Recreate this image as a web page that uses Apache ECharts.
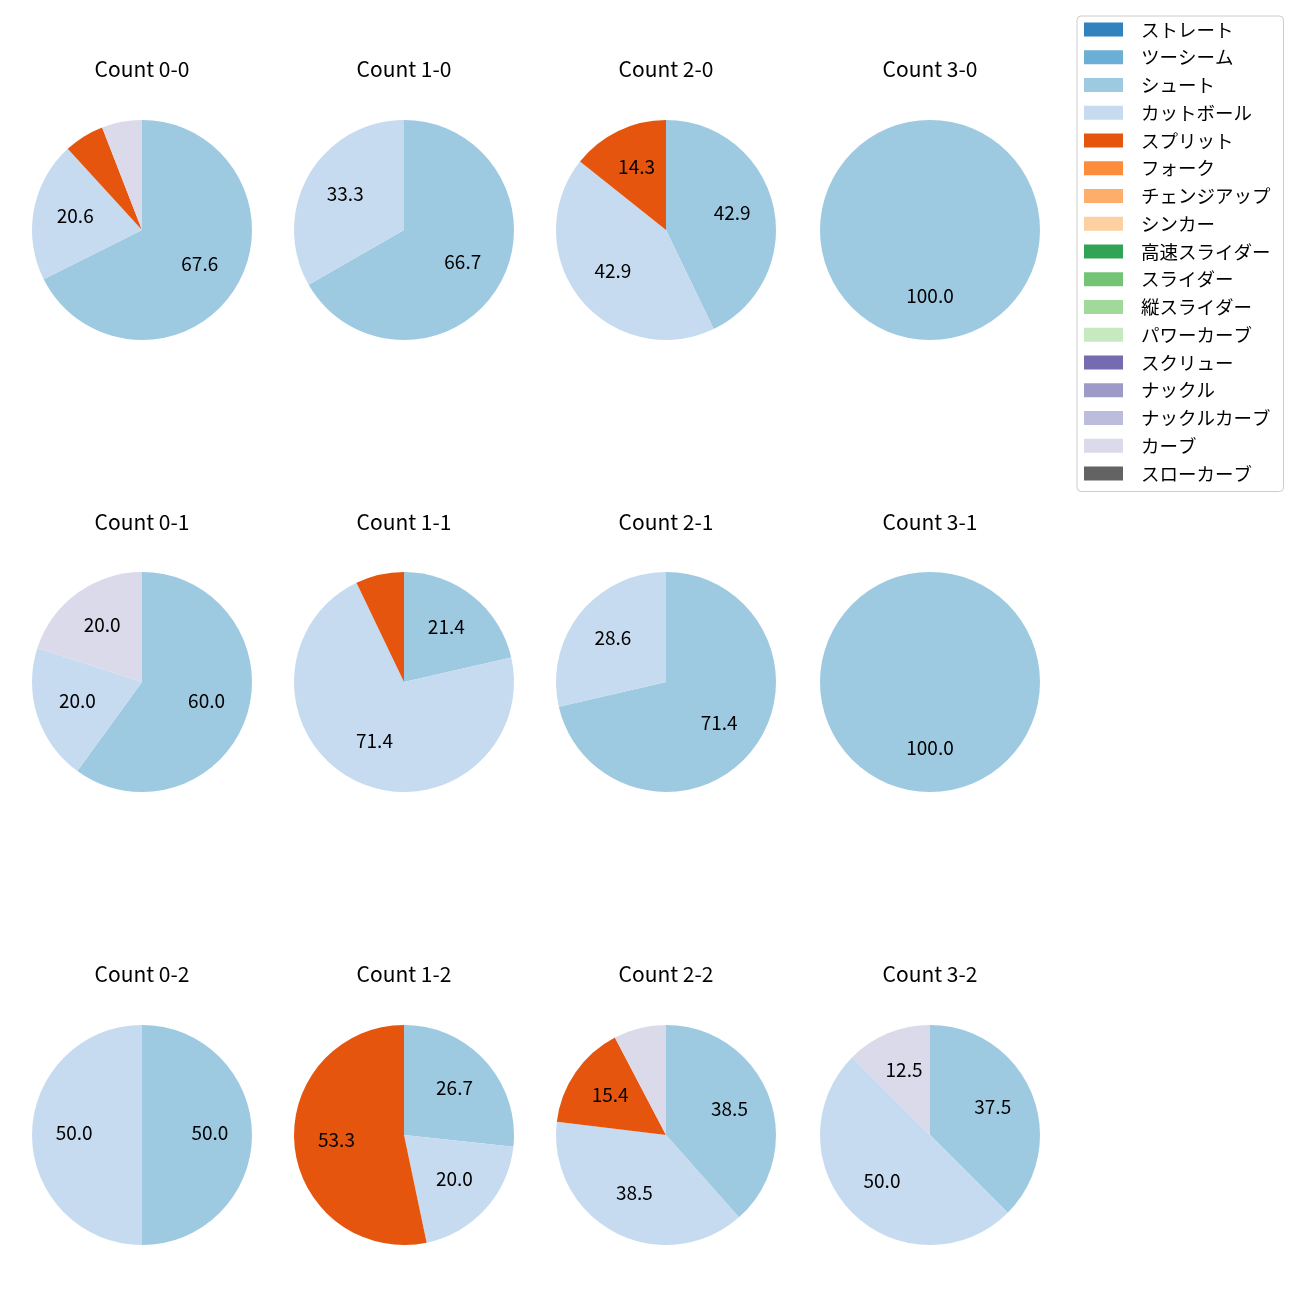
<!DOCTYPE html>
<html>
<head>
<meta charset="utf-8">
<script src="https://cdn.jsdelivr.net/npm/echarts@6/dist/echarts.min.js"></script>
<style>html,body{margin:0;padding:0;background:#fff;}#c{width:1300px;height:1300px;}</style>
</head>
<body>
<div id="c"></div>
<script>
const pitchTypes = ['ストレート','ツーシーム','シュート','カットボール','スプリット','フォーク','チェンジアップ','シンカー','高速スライダー','スライダー','縦スライダー','パワーカーブ','スクリュー','ナックル','ナックルカーブ','カーブ','スローカーブ'];
const pitchColors = ['#3182bd','#6baed6','#9ecae1','#c6dbef','#e6550d','#fd8d3c','#fdae6b','#fdd0a2','#31a354','#74c476','#a1d99b','#c7e9c0','#756bb1','#9e9ac8','#bcbddc','#dadaeb','#636363'];

// percentages per count, order: シュート, カットボール, スプリット, カーブ
const shownTypes = ['シュート','カットボール','スプリット','カーブ'];
const count_0_0 = [67.6, 20.6, 5.9, 5.9];
const count_1_0 = [66.7, 33.3, 0, 0];
const count_2_0 = [42.9, 42.9, 14.3, 0];
const count_3_0 = [100.0, 0, 0, 0];
const count_0_1 = [60.0, 20.0, 0, 20.0];
const count_1_1 = [21.4, 71.4, 7.1, 0];
const count_2_1 = [71.4, 28.6, 0, 0];
const count_3_1 = [100.0, 0, 0, 0];
const count_0_2 = [50.0, 50.0, 0, 0];
const count_1_2 = [26.7, 20.0, 53.3, 0];
const count_2_2 = [38.5, 38.5, 15.4, 7.7];
const count_3_2 = [37.5, 50.0, 0, 12.5];

const panels = [
  ['Count 0-0', count_0_0], ['Count 1-0', count_1_0], ['Count 2-0', count_2_0], ['Count 3-0', count_3_0],
  ['Count 0-1', count_0_1], ['Count 1-1', count_1_1], ['Count 2-1', count_2_1], ['Count 3-1', count_3_1],
  ['Count 0-2', count_0_2], ['Count 1-2', count_1_2], ['Count 2-2', count_2_2], ['Count 3-2', count_3_2]
];

const FONT = '"Noto Sans CJK JP", "Noto Sans", sans-serif';
const colX = [142, 404, 666, 930];
const rowY = [230, 682, 1135];
const titleY = [69, 522, 974];
const R = 110;
const colorOf = n => pitchColors[pitchTypes.indexOf(n)];

const titles = [];
const series = [];
panels.forEach((p, i) => {
  const cx = colX[i % 4], cy = rowY[Math.floor(i / 4)];
  titles.push({
    text: p[0], left: cx, top: titleY[Math.floor(i / 4)] - 13, textAlign: 'center', padding: 0,
    textStyle: {fontFamily: FONT, fontSize: 21, fontWeight: 'normal', color: '#000', lineHeight: 26}
  });
  const data = [];
  p[1].forEach((v, k) => { if (v > 0) data.push({name: shownTypes[k], value: v, itemStyle: {color: colorOf(shownTypes[k])}}); });
  series.push({
    type: 'pie', center: [cx, cy], radius: R, startAngle: 90, clockwise: true,
    animation: false, silent: true, label: {show: false}, labelLine: {show: false},
    emphasis: {disabled: true}, data: data
  });
  series.push({
    type: 'pie', center: [cx, cy], radius: [R * 0.18, R], startAngle: 90, clockwise: true,
    animation: false, silent: true, legendHoverLink: false,
    itemStyle: {color: 'rgba(0,0,0,0)'},
    label: {show: true, position: 'inside', fontFamily: FONT, fontSize: 19, color: '#000', offset: [0, -2],
      formatter: d => d.value >= 10 ? d.value.toFixed(1) : ''},
    labelLine: {show: false}, emphasis: {disabled: true},
    data: data.map(d => ({name: d.name, value: d.value, itemStyle: {color: 'rgba(0,0,0,0)'}}))
  });
});
// legend carrier (off-screen) so every pitch type appears in the legend
series.push({
  type: 'pie', center: [-500, -500], radius: 1, animation: false, silent: true,
  label: {show: false}, labelLine: {show: false},
  data: pitchTypes.map((n, k) => ({name: n, value: 1, itemStyle: {color: pitchColors[k]}}))
});

const chart = echarts.init(document.getElementById('c'), null, {renderer: 'canvas'});
chart.setOption({
  backgroundColor: '#fff',
  title: titles,
  legend: {
    orient: 'vertical', left: 1077, top: 16,
    data: pitchTypes, icon: 'rect', itemWidth: 39, itemHeight: 14, itemGap: 7.75,
    padding: [3.5, 13, 8, 7],
    borderColor: '#cccccc', borderWidth: 1, borderRadius: 4,
    selectedMode: false,
    textStyle: {fontFamily: FONT, fontSize: 18.5, color: '#000', lineHeight: 20, padding: [0, 0, 0, 13]}
  },
  series: series
});
</script>
</body>
</html>
